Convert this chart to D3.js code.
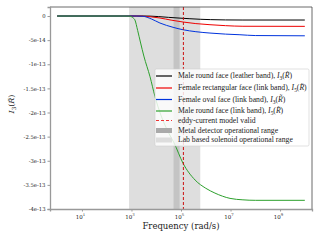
<!DOCTYPE html>
<html>
<head>
<meta charset="utf-8">
<script src="https://cdn.jsdelivr.net/npm/d3@7"></script>
<style>
    body { margin: 0; background: #fff; }
    text { font-family: "DejaVu Serif", "Liberation Serif", serif; }
    .leg text { font-family: "Liberation Serif", "DejaVu Serif", serif; }
</style>
</head>
<body>
<div class="content"></div>
<script>
(function () {
    'use strict';
    // log10(frequency) samples and values (units of 1e-13)
    var blackLog = [0, 3.5, 3.75, 4.1, 4.5, 5.0, 5.36, 5.8, 6.2, 6.8, 7.5, 10],
        blackVal = [0, 0, -0.002, -0.012, -0.028, -0.045, -0.056, -0.068, -0.075, -0.081, -0.083, -0.083],
        redLog = [0, 3.2, 3.46, 3.8, 4.15, 4.6, 5.08, 5.6, 6.17, 6.8, 7.5, 10],
        redVal = [0, 0, -0.003, -0.018, -0.041, -0.085, -0.124, -0.157, -0.18, -0.2, -0.212, -0.214],
        blueLog = [0, 3.2, 3.46, 3.8, 4.15, 4.68, 5.08, 5.6, 6.17, 6.8, 7.38, 8, 10],
        blueVal = [0, 0, -0.005, -0.06, -0.145, -0.234, -0.284, -0.325, -0.353, -0.375, -0.388, -0.405, -0.41],
        greenLog = [0, 2.6, 2.85, 2.94, 3.0, 3.07, 3.14, 3.25, 3.37, 3.5, 3.75, 3.95, 4.2, 4.5, 4.72, 5.08, 5.57, 6.0, 6.37, 6.98, 7.5, 8, 10],
        greenVal = [0, 0, -0.001, -0.004, -0.015, -0.04, -0.083, -0.3, -0.56, -0.83, -1.26, -1.67, -2.07, -2.42, -2.63, -3.05, -3.40, -3.57, -3.67, -3.78, -3.81, -3.82, -3.82],
        lightRange = [800, 6e5],
        darkRange = [5e4, 8.8e4],
        eddyLine = 1.25e5,
        yTicks = [0, -0.5, -1, -1.5, -2, -2.5, -3, -3.5, -4],
        yTickLabels = ['0', '-5e-14', '-1e-13', '-1.5e-13', '-2e-13', '-2.5e-13', '-3e-13', '-3.5e-13', '-4e-13'],
        xTicks = [1, 3, 5, 7, 9],
        series = [
            {log: blackLog, val: blackVal, color: '#000000', name: 'Male round face (leather band), ', sub: '3'},
            {log: redLog, val: redVal, color: '#ee0000', name: 'Female rectangular face (link band), ', sub: '5'},
            {log: blueLog, val: blueVal, color: '#0033dd', name: 'Female oval face (link band), ', sub: '3'},
            {log: greenLog, val: greenVal, color: '#2ca02c', name: 'Male round face (link band), ', sub: '5'}
        ],
        W = 320, H = 240, FS = 7,
        plot = {left: 50, right: 312, top: 7, bottom: 209},
        svg, x, y, legend, lg, rows, texts, widest;

    svg = d3.select('.content').append('svg')
        .attr('width', W).attr('height', H);

    x = d3.scaleLog().domain([Math.pow(10, -0.29), Math.pow(10, 10.29)])
        .range([plot.left, plot.right]);
    y = d3.scaleLinear().domain([-4, 0.187]).range([plot.bottom, plot.top]);

    // shaded ranges
    svg.append('rect')
        .attr('x', x(lightRange[0])).attr('y', plot.top)
        .attr('width', x(lightRange[1]) - x(lightRange[0]))
        .attr('height', plot.bottom - plot.top)
        .attr('fill', '#dedede');
    svg.append('rect')
        .attr('x', x(darkRange[0])).attr('y', plot.top)
        .attr('width', x(darkRange[1]) - x(darkRange[0]))
        .attr('height', plot.bottom - plot.top)
        .attr('fill', '#c4c4c4');

    // curves
    series.forEach(function (s) {
        var pts = s.log.map(function (l, j) { return [Math.pow(10, l), s.val[j]]; });
        svg.append('path')
            .datum(pts)
            .attr('fill', 'none')
            .attr('stroke', s.color)
            .attr('stroke-width', 1)
            .attr('d', d3.line()
                .x(function (d) { return x(d[0]); })
                .y(function (d) { return y(d[1]); })
                .curve(d3.curveMonotoneX));
    });

    // eddy current line
    svg.append('line')
        .attr('x1', x(eddyLine)).attr('x2', x(eddyLine))
        .attr('y1', plot.top).attr('y2', plot.bottom)
        .attr('stroke', '#cc1111').attr('stroke-width', 1)
        .attr('stroke-dasharray', '3,2');

    // frame
    svg.append('line').attr('x1', plot.left).attr('x2', plot.right)
        .attr('y1', plot.top).attr('y2', plot.top).attr('stroke', '#444').attr('stroke-width', 0.8);
    svg.append('line').attr('x1', plot.right).attr('x2', plot.right)
        .attr('y1', plot.top).attr('y2', plot.bottom).attr('stroke', '#444').attr('stroke-width', 0.8);

    // y axis
    svg.append('g')
        .attr('transform', 'translate(' + plot.left + ',0)')
        .call(d3.axisLeft(y).tickValues(yTicks).tickSize(2.5).tickPadding(2)
            .tickFormat(function (d, k) { return yTickLabels[k]; }))
        .call(function (g) {
            g.select('.domain').attr('stroke', '#999').attr('stroke-width', 1.3);
            g.selectAll('.tick line').attr('stroke', '#999');
            g.selectAll('.tick text').attr('font-size', 5.3).attr('fill', '#222')
                .style('font-family', '"DejaVu Serif", serif');
        });

    // x axis
    svg.append('g')
        .attr('transform', 'translate(0,' + plot.bottom + ')')
        .call(d3.axisBottom(x).tickValues(xTicks.map(function (p) { return Math.pow(10, p); }))
            .tickSize(2.5).tickPadding(2).tickFormat(''))
        .call(function (g) {
            g.select('.domain').attr('stroke', '#999').attr('stroke-width', 1.3);
            g.selectAll('.tick line').attr('stroke', '#999');
        });
    xTicks.forEach(function (p) {
        var t = svg.append('text')
            .attr('x', x(Math.pow(10, p)) - 1.5).attr('y', 218.5)
            .attr('font-size', 5.5).attr('fill', '#222')
            .attr('text-anchor', 'middle');
        t.append('tspan').text('10');
        t.append('tspan').attr('dy', -2.5).attr('font-size', 3.8).text(p);
    });

    // axis labels
    svg.append('text')
        .attr('x', (plot.left + plot.right) / 2).attr('y', 229)
        .attr('text-anchor', 'middle').attr('font-size', 8.5).attr('fill', '#222')
        .text('Frequency (rad/s)');

    function mathLabel(t, sub, size) {
        t.append('tspan').attr('font-style', 'italic').text('I');
        t.append('tspan').attr('font-size', size * 0.7).attr('dy', size * 0.25).text(sub);
        t.append('tspan').attr('dy', -size * 0.25).text('(');
        t.append('tspan').attr('font-style', 'italic').text('R\u0303');
        t.append('tspan').text(')');
    }

    mathLabel(svg.append('text')
        .attr('transform', 'translate(14,104) rotate(-90)')
        .attr('text-anchor', 'middle').attr('font-size', 8).attr('fill', '#222'), '3', 8);

    // legend
    legend = svg.append('g').attr('class', 'leg');
    legend.append('rect')
        .attr('x', 155).attr('y', 69).attr('width', 154).attr('height', 77)
        .attr('rx', 1.5).attr('fill', '#fff').attr('fill-opacity', 0.82)
        .attr('stroke', '#ccc').attr('stroke-width', 0.6);

    rows = [76, 88, 99.5, 111, 120.5, 130.5, 140];
    function legendText(g) {
        return g.append('text').attr('x', 178).attr('y', 2.2)
            .attr('font-size', FS).attr('fill', '#222');
    }
    series.forEach(function (s, k) {
        lg = legend.append('g').attr('transform', 'translate(0,' + rows[k] + ')');
        lg.append('line').attr('x1', 156).attr('x2', 172).attr('y1', 0).attr('y2', 0)
            .attr('stroke', s.color).attr('stroke-width', 1.2);
        legendText(lg).call(function (t) {
            t.append('tspan').text(s.name);
            mathLabel(t, s.sub, FS);
        });
    });
    lg = legend.append('g').attr('transform', 'translate(0,' + rows[4] + ')');
    lg.append('line').attr('x1', 156).attr('x2', 172).attr('y1', 0).attr('y2', 0)
        .attr('stroke', '#ee3333').attr('stroke-width', 1.2).attr('stroke-dasharray', '3,2');
    legendText(lg).text('eddy-current model valid');

    [['#aaaaaa', 'Metal detector operational range'], ['#dddddd', 'Lab based solenoid operational range']]
        .forEach(function (p, k) {
            lg = legend.append('g').attr('transform', 'translate(0,' + rows[5 + k] + ')');
            lg.append('rect').attr('x', 156).attr('y', -2.5).attr('width', 16).attr('height', 5)
                .attr('fill', p[0]);
            legendText(lg).text(p[1]);
        });

    // fit legend font so the widest row ends just inside the box
    texts = legend.selectAll('text');
    widest = d3.max(texts.nodes(), function (n) { return n.getComputedTextLength(); });
    texts.each(function () {
        var t = d3.select(this), f = FS * 129 / widest;
        t.attr('font-size', f);
        t.selectAll('tspan').each(function (d, k) {
            var ts = d3.select(this);
            if (ts.attr('dy')) { ts.attr('dy', +ts.attr('dy') > 0 ? f * 0.25 : -f * 0.25); }
            if (ts.attr('font-size')) { ts.attr('font-size', f * 0.7); }
        });
    });
}());
</script>
</body>
</html>
